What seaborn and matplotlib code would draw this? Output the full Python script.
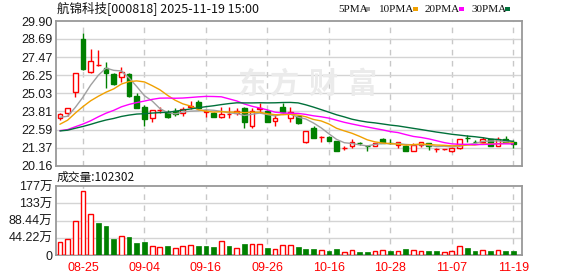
import numpy as np
import pandas as pd
import matplotlib
matplotlib.use("Agg")
import matplotlib.pyplot as plt
import seaborn as sns
from matplotlib.patches import Rectangle

# ---------------- data ----------------
dates = ["08-20", "08-21", "08-22", "08-25", "08-26", "08-27", "08-28", "08-29",
         "09-01", "09-02", "09-03", "09-04", "09-05", "09-08", "09-09", "09-10",
         "09-11", "09-12", "09-15", "09-16", "09-17", "09-18", "09-19", "09-22",
         "09-23", "09-24", "09-25", "09-26", "09-29", "09-30", "10-09", "10-10",
         "10-13", "10-14", "10-15", "10-16", "10-17", "10-20", "10-21", "10-22",
         "10-23", "10-24", "10-27", "10-28", "10-29", "10-30", "10-31", "11-03",
         "11-04", "11-05", "11-06", "11-07", "11-10", "11-11", "11-12", "11-13",
         "11-14", "11-17", "11-18", "11-19"]

open_ = [23.38, 23.69, 25.10, 28.69, 26.45, 26.92, 26.76, 26.33, 26.11, 26.33,
         24.85, 24.09, 23.35, 23.90, 23.80, 23.86, 23.73, 24.12, 24.43, 23.79,
         23.73, 23.46, 23.61, 23.69, 24.07, 22.85, 23.95, 23.86, 23.19, 24.13,
         23.35, 23.53, 21.74, 22.72, 22.10, 22.11, 21.82, 21.35, 21.49, 21.68,
         21.50, 21.51, 21.94, 21.68, 21.56, 21.49, 21.17, 21.56, 21.67, 21.26,
         21.26, 21.15, 21.33, 22.02, 21.75, 21.74, 21.94, 21.49, 21.94, 21.78]
high = [23.70, 24.05, 26.40, 29.07, 28.02, 27.95, 27.14, 26.38, 26.83, 26.42,
        25.08, 24.25, 23.92, 24.09, 23.93, 24.03, 24.09, 24.53, 24.58, 23.91,
        23.78, 24.13, 24.09, 24.03, 24.10, 24.03, 24.36, 23.90, 23.62, 24.36,
        24.13, 23.60, 22.52, 22.80, 22.13, 22.15, 21.85, 21.48, 21.96, 21.78,
        21.56, 21.70, 22.04, 21.94, 21.76, 21.52, 21.71, 21.76, 21.70, 21.37,
        21.30, 21.42, 21.98, 22.23, 21.89, 22.06, 21.96, 22.06, 22.16, 21.89]
low = [23.23, 23.50, 24.77, 26.60, 26.42, 26.90, 25.37, 25.60, 25.82, 24.80,
       24.05, 22.83, 23.12, 23.69, 23.40, 23.53, 23.51, 23.96, 23.98, 23.46,
       23.44, 23.39, 23.35, 23.57, 22.68, 22.68, 23.73, 23.10, 22.85, 23.69,
       23.12, 23.00, 21.72, 22.00, 21.78, 21.80, 21.15, 21.20, 21.37, 21.56,
       21.17, 21.48, 21.66, 21.60, 21.37, 21.15, 21.15, 21.42, 21.22, 21.06,
       21.22, 21.10, 21.30, 21.78, 21.66, 21.71, 21.46, 21.46, 21.70, 21.37]
close = [23.62, 24.03, 26.38, 26.67, 27.21, 26.96, 26.42, 25.64, 26.45, 24.85,
         24.07, 23.33, 23.89, 23.92, 23.46, 23.62, 24.00, 24.15, 24.03, 23.81,
         23.46, 23.64, 23.62, 23.86, 23.12, 23.87, 24.05, 23.12, 23.39, 23.76,
         23.80, 23.06, 22.50, 22.05, 22.12, 21.82, 21.17, 21.38, 21.78, 21.66,
         21.48, 21.67, 21.71, 21.66, 21.74, 21.17, 21.56, 21.74, 21.49, 21.28,
         21.29, 21.33, 21.94, 22.00, 21.73, 21.96, 21.49, 21.96, 21.74, 21.60]

# closes of the 29 sessions before the window (estimated from where the MA lines start)
prior_close = [22.5, 22.5, 23.0, 23.0, 22.3, 22.3, 22.5, 22.4, 22.1, 22.0,
               22.6, 22.6, 23.0, 22.8, 21.6, 21.6, 21.8, 21.7, 21.6, 21.6,
               21.3, 21.6, 22.3, 23.3, 23.9, 23.7, 23.4, 23.2, 23.18]

# volume in 万 (10k shares)
volume_wan = [34, 40, 86, 164, 105, 83, 74, 41, 49, 46,
              31.5, 34, 22, 20, 23, 18, 22, 25, 23, 23,
              21, 36, 23, 17, 28, 28, 28, 18, 14.5, 26.4,
              25.6, 20.4, 15.3, 15.3, 12, 10.2, 15.3, 7.7, 12, 7.7,
              7.7, 10.2, 12.8, 10.2, 10.2, 15.3, 12.8, 10.2, 10.2, 10.2,
              7.7, 10.2, 22, 17, 10.2, 12, 10.2, 12, 10.2, 10.23]
vol_up = [1, 1, 1, 1, 1, 0, 0, 0, 1, 0,
          0, 0, 1, 1, 0, 1, 1, 1, 0, 0,
          0, 1, 0, 1, 0, 1, 1, 0, 1, 1,
          1, 0, 0, 0, 1, 0, 0, 1, 1, 0,
          0, 1, 1, 0, 1, 0, 1, 1, 0, 0,
          1, 1, 1, 0, 0, 1, 0, 1, 0, 0]

title = "航锦科技[000818] 2025-11-19 15:00"
vol_title = "成交量:102302"
price_ticks = [20.16, 21.37, 22.59, 23.81, 25.03, 26.25, 27.47, 28.69, 29.90]
price_tick_labels = ["20.16", "21.37", "22.59", "23.81", "25.03", "26.25", "27.47", "28.69", "29.90"]
vol_ticks = [0, 44.22, 88.44, 132.66, 176.88]
vol_tick_labels = ["0", "44.22万", "88.44万", "133万", "177万"]
label_dates = ["08-25", "09-04", "09-16", "09-26", "10-16", "10-28", "11-07", "11-19"]
ma_windows = [5, 10, 20, 30]
ma_names = ["5PMA", "10PMA", "20PMA", "30PMA"]
ma_colors = ["#a0a0a0", "#f0a000", "#ff00ff", "#00703a"]
watermark = ["东", "方", "财", "富"]

# ---------------- style ----------------
sns.set_theme(style="white")
plt.rcParams['font.family'] = ['Noto Sans CJK SC', 'DejaVu Sans']
RED = "#ff0000"
GREEN = "#008000"
GRID = "#d4d4d4"
SPINE = "#999999"

W, H = 578, 276
fig = plt.figure(figsize=(W / 100, H / 100), dpi=100)
fig.patch.set_facecolor("white")
ax = fig.add_axes([56 / W, 1 - 165.7 / H, 466 / W, 144.7 / H])
axv = fig.add_axes([56 / W, 1 - 255 / H, 466 / W, 69 / H])

n = len(close)
x = np.arange(n)
o = np.array(open_); c = np.array(close); hi = np.array(high); lo = np.array(low)
df = pd.DataFrame({"x": x, "date": dates, "open": o, "high": hi, "low": lo,
                   "close": c, "vol": volume_wan, "vol_up": np.array(vol_up, bool)})

# watermark
for ch, cx in zip(watermark, [252, 285, 323, 362]):
    fig.text(cx / W, 1 - 84 / H, ch, fontsize=21, fontweight="bold", color="#ebebeb",
             ha="center", va="center", zorder=0)

# candles
up = c >= o
body_lo = np.minimum(o, c)
body_hi = np.maximum(o, c)
cols = np.where(up, RED, GREEN)
ax.vlines(x, lo, body_lo, colors=cols, lw=1, zorder=2)
ax.vlines(x, body_hi, hi, colors=cols, lw=1, zorder=2)
ax.bar(x[up], (body_hi - body_lo)[up], bottom=body_lo[up], width=0.62,
       facecolor="white", edgecolor=RED, lw=1, zorder=3)
ax.bar(x[~up], (body_hi - body_lo)[~up], bottom=body_lo[~up], width=0.62,
       facecolor=GREEN, edgecolor=GREEN, lw=1, zorder=3)

# moving averages
all_close = pd.Series(prior_close + close)
for w, col in zip(ma_windows, ma_colors):
    ma = all_close.rolling(w).mean().iloc[len(prior_close):].to_numpy()
    sns.lineplot(x=x, y=ma, ax=ax, color=col, lw=1.0, zorder=4, legend=False)

# volume
vu = df["vol_up"].to_numpy()
v = df["vol"].to_numpy()
axv.bar(x[vu], v[vu], width=0.62, facecolor="white", edgecolor=RED, lw=1, zorder=3)
axv.bar(x[~vu], v[~vu], width=0.62, facecolor=GREEN, edgecolor=GREEN, lw=0.5, zorder=3)

# axes styling
label_pos = [dates.index(d) for d in label_dates]
for a in (ax, axv):
    a.set_xlim(-0.51, 60.13)
    a.set_xticks(label_pos)
    a.set_xlabel(""); a.set_ylabel("")
    a.grid(False)
    for xp in label_pos:
        a.axvline(xp, color="#c8c8c8", lw=1, ls=(0, (4, 4)), zorder=1)
    for s in a.spines.values():
        s.set_color(SPINE); s.set_linewidth(1.3); s.set_visible(True)
    a.tick_params(length=0, pad=2.5, labelsize=9, labelcolor="#1a1a1a")
    a.set_facecolor("none")

ax.set_ylim(20.16, 29.90)
ax.set_yticks(price_ticks)
ax.set_yticklabels(price_tick_labels, family="Liberation Sans")
for t in price_ticks[1:-1]:
    ax.axhline(t, color=GRID, lw=1, zorder=1)
ax.set_xticklabels([])

axv.set_ylim(0, 176.88)
axv.set_yticks(vol_ticks)
axv.set_yticklabels(vol_tick_labels, family=["Liberation Sans", "Noto Sans CJK SC"])
for t in vol_ticks[1:-1]:
    axv.axhline(t, color=GRID, lw=1, zorder=1)
axv.set_xticklabels(label_dates, color=RED, fontsize=9, family="Liberation Sans")
axv.tick_params(axis="x", pad=5)

# texts
fig.text(57 / W, 1 - 9.5 / H, title, fontsize=9, color="#111111", ha="left", va="center")
fig.text(57 / W, 1 - 177 / H, vol_title, fontsize=8.5, color="#111111", ha="left", va="center")

leg_x = [338, 379, 425, 471]
sq_x = [365, 413, 459, 505]
for name, col, lx, sx in zip(ma_names, ma_colors, leg_x, sq_x):
    fig.text(lx / W, 1 - 9 / H, name, fontsize=8, family="Liberation Serif",
             color="#111111", ha="left", va="center")
    fig.patches.append(Rectangle((sx / W, 1 - 11 / H), 5 / W, 4 / H,
                                 transform=fig.transFigure, facecolor=col,
                                 edgecolor="none"))

fig.savefig("out.png", dpi=100, facecolor="white")
